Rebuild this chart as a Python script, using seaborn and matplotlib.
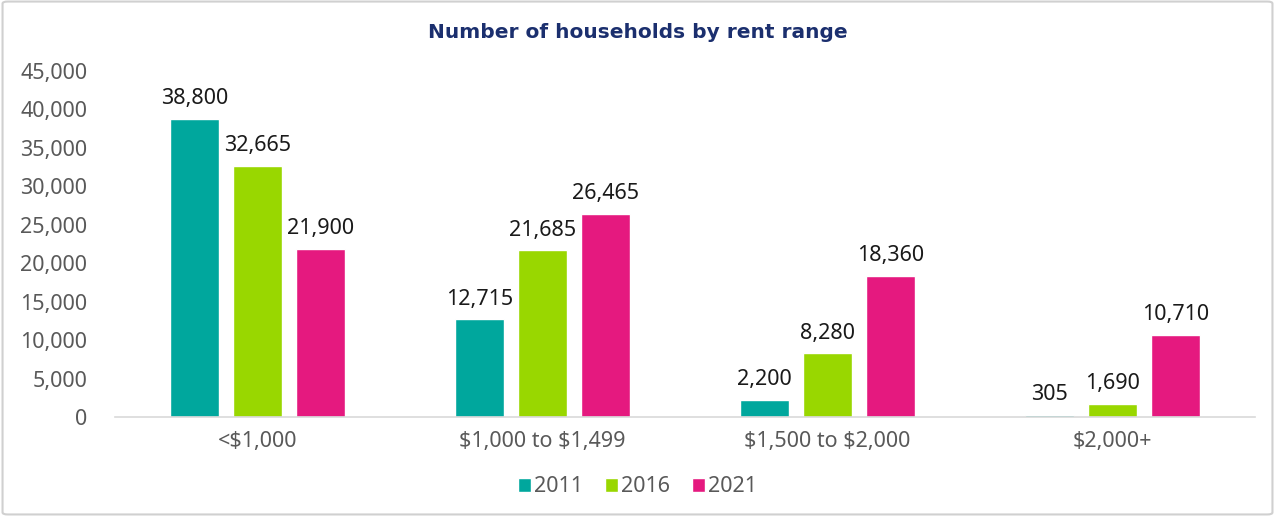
import pandas as pd
import matplotlib.pyplot as plt
import seaborn as sns
from matplotlib.patches import FancyBboxPatch
from matplotlib.ticker import FuncFormatter

# Chart data
rent_ranges = ['<$1,000', '$1,000 to $1,499', '$1,500 to $2,000', '$2,000+']
years = ['2011', '2016', '2021']
households_2011 = [38800, 12715, 2200, 305]
households_2016 = [32665, 21685, 8280, 1690]
households_2021 = [21900, 26465, 18360, 10710]
year_colors = ['#00A79D', '#99D700', '#E5197F']

df = pd.DataFrame({
    'rent_range': rent_ranges * 3,
    'year': [y for y in years for _ in rent_ranges],
    'households': households_2011 + households_2016 + households_2021,
})

sns.set_style('white')
plt.rcParams['font.family'] = ['Noto Sans', 'DejaVu Sans']
plt.rcParams['text.parse_math'] = False  # keep the $ signs literal

fig = plt.figure(figsize=(12.75, 5.16), dpi=100)
ax = fig.add_axes([115 / 1275, 1 - 417 / 516, 1140 / 1275, 346 / 516])

sns.barplot(data=df, x='rent_range', y='households', hue='year',
            palette=year_colors, width=0.66, gap=0.22, saturation=1,
            ax=ax, legend=True)

ax.set_ylim(0, 45000)
ax.set_yticks(range(0, 45001, 5000))
ax.yaxis.set_major_formatter(FuncFormatter(lambda v, p: f'{int(v):,}'))
ax.set_xlabel('')
ax.set_ylabel('')
ax.tick_params(axis='both', labelsize=15.5, labelcolor='#595959', length=0)
ax.tick_params(axis='y', pad=20)
ax.tick_params(axis='x', pad=10)
for side in ['top', 'right', 'left']:
    ax.spines[side].set_visible(False)
ax.spines['bottom'].set_color('#D9D9D9')
ax.spines['bottom'].set_linewidth(1.2)

for cont in ax.containers:
    ax.bar_label(cont, labels=[f'{int(v):,}' for v in cont.datavalues],
                 padding=7, fontsize=15.5, color='#1A1A1A')

handles, labels = ax.get_legend_handles_labels()
ax.get_legend().remove()
fig.legend(handles, labels, loc='center', bbox_to_anchor=(0.5, 1 - 487 / 516),
           ncol=3, frameon=False, fontsize=15.5, handlelength=0.6,
           handleheight=0.6, handletextpad=0.15, columnspacing=1.0,
           labelcolor='#595959', borderaxespad=0)

fig.text(0.5, 1 - 33 / 516, 'Number of households by rent range',
         ha='center', va='center', fontsize=14.5, fontweight='bold',
         family='DejaVu Sans', color='#1B2F6E')

# light outer frame
frame = FancyBboxPatch((0.002, 0.003), 0.996, 0.994,
                       boxstyle='round,pad=0,rounding_size=0.004',
                       transform=fig.transFigure, fill=False,
                       edgecolor='#D0D0D0', linewidth=1.5)
fig.patches.append(frame)

fig.savefig('out.png', dpi=100)
